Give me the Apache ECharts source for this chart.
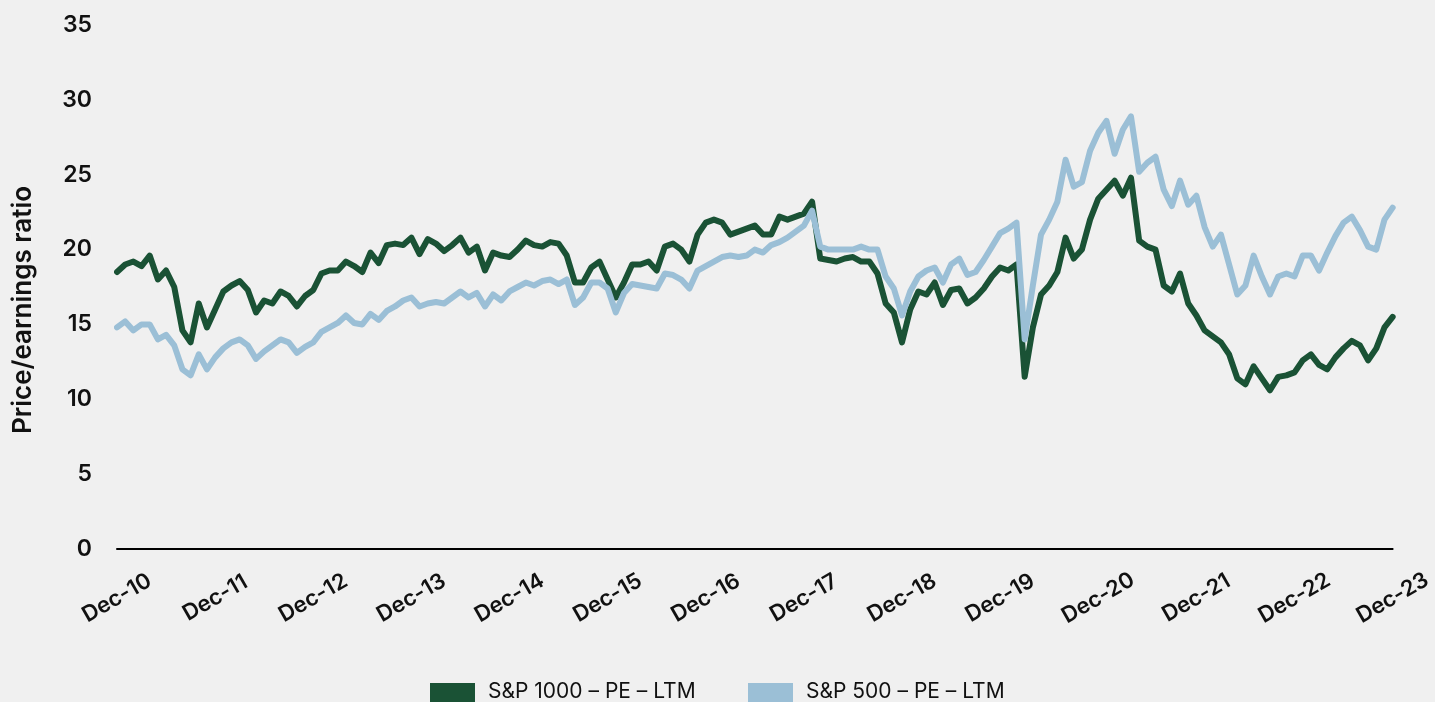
<!DOCTYPE html>
<html>
<head>
<meta charset="utf-8">
<script src="https://cdn.jsdelivr.net/npm/echarts@6/dist/echarts.min.js"></script>
<style>
html,body{margin:0;padding:0;background:#f0f0f0;}
#chart{width:1435px;height:702px;}
</style>
</head>
<body>
<div id="chart"></div>
<script>
// Monthly observations, Dec-10 .. Dec-23
const monthNames = ['Dec','Jan','Feb','Mar','Apr','May','Jun','Jul','Aug','Sep','Oct','Nov'];
const startYear = 10;
const endYear = 23;
const seriesNames = ['S&P 1000 – PE – LTM', 'S&P 500 – PE – LTM'];
const yTicks = [0, 5, 10, 15, 20, 25, 30, 35];

const sp1000 = [
  18.5, 19.0, 19.2, 18.9, 19.6, 18.0, 18.6, 17.5, 14.6, 13.8, 16.4, 14.8,
  16.0, 17.2, 17.6, 17.9, 17.3, 15.8, 16.6, 16.4, 17.2, 16.9, 16.2, 16.9,
  17.3, 18.4, 18.6, 18.6, 19.2, 18.9, 18.5, 19.8, 19.1, 20.3, 20.4, 20.3,
  20.8, 19.7, 20.7, 20.4, 19.9, 20.3, 20.8, 19.8, 20.2, 18.6, 19.8, 19.6,
  19.5, 20.0, 20.6, 20.3, 20.2, 20.5, 20.4, 19.6, 17.8, 17.8, 18.8, 19.2,
  18.0, 16.8, 17.8, 19.0, 19.0, 19.2, 18.6, 20.2, 20.4, 20.0, 19.2, 21.0,
  21.8, 22.0, 21.8, 21.0, 21.2, 21.4, 21.6, 21.0, 21.0, 22.2, 22.0, 22.2,
  22.4, 23.2, 19.4, 19.3, 19.2, 19.4, 19.5, 19.2, 19.2, 18.4, 16.4, 15.8,
  13.8, 16.0, 17.2, 17.0, 17.8, 16.3, 17.3, 17.4, 16.4, 16.8, 17.4, 18.2,
  18.8, 18.6, 19.0, 11.5, 14.8, 17.0, 17.6, 18.5, 20.8, 19.4, 20.0, 22.0,
  23.4, 24.0, 24.6, 23.6, 24.8, 20.6, 20.2, 20.0, 17.6, 17.2, 18.4, 16.4,
  15.6, 14.6, 14.2, 13.8, 13.0, 11.4, 11.0, 12.2, 11.4, 10.6, 11.5, 11.6,
  11.8, 12.6, 13.0, 12.3, 12.0, 12.8, 13.4, 13.9, 13.6, 12.6, 13.4, 14.8,
  15.5
];

const sp500 = [
  14.8, 15.2, 14.6, 15.0, 15.0, 14.0, 14.3, 13.6, 12.0, 11.6, 13.0, 12.0,
  12.8, 13.4, 13.8, 14.0, 13.6, 12.7, 13.2, 13.6, 14.0, 13.8, 13.1, 13.5,
  13.8, 14.5, 14.8, 15.1, 15.6, 15.1, 15.0, 15.7, 15.3, 15.9, 16.2, 16.6,
  16.8, 16.2, 16.4, 16.5, 16.4, 16.8, 17.2, 16.8, 17.1, 16.2, 17.0, 16.6,
  17.2, 17.5, 17.8, 17.6, 17.9, 18.0, 17.7, 18.0, 16.3, 16.8, 17.8, 17.8,
  17.4, 15.8, 17.1, 17.7, 17.6, 17.5, 17.4, 18.4, 18.3, 18.0, 17.4, 18.6,
  18.9, 19.2, 19.5, 19.6, 19.5, 19.6, 20.0, 19.8, 20.3, 20.5, 20.8, 21.2,
  21.6, 22.6, 20.2, 20.0, 20.0, 20.0, 20.0, 20.2, 20.0, 20.0, 18.2, 17.4,
  15.6, 17.2, 18.2, 18.6, 18.8, 17.8, 19.0, 19.4, 18.3, 18.5, 19.3, 20.2,
  21.1, 21.4, 21.8, 14.0, 17.6, 21.0, 22.0, 23.2, 26.0, 24.2, 24.5, 26.6,
  27.8, 28.6, 26.4, 28.0, 28.9, 25.2, 25.8, 26.2, 24.0, 22.9, 24.6, 23.0,
  23.6, 21.5, 20.2, 21.0, 19.0, 17.0, 17.6, 19.6, 18.2, 17.0, 18.2, 18.4,
  18.2, 19.6, 19.6, 18.6, 19.8, 20.9, 21.8, 22.2, 21.3, 20.2, 20.0, 22.0,
  22.8
];

const categories = [];
for (let y = startYear; y <= endYear; y++) {
  for (let m = 0; m < 12; m++) {
    const yy = m === 0 ? y : y + 1;
    if (yy > endYear) break;
    categories.push(monthNames[m] + '-' + String(yy).padStart(2, '0'));
  }
}
categories.length = sp1000.length;

const COLORS = ['#1a5235', '#9bbfd6'];
const FONT = 'Inter, "Noto Sans", sans-serif';
const chart = echarts.init(document.getElementById('chart'));

const legendGraphic = [];
const legendRectX = [430, 748];
seriesNames.forEach((nm, k) => {
  legendGraphic.push({
    type: 'rect', x: legendRectX[k], y: 683,
    shape: { width: 45, height: 25 },
    style: { fill: COLORS[k] }
  });
  legendGraphic.push({
    type: 'text', x: legendRectX[k] + 58, y: 691.5,
    style: { text: nm, fontFamily: FONT, fontSize: 21, fill: '#111', textAlign: 'left', textVerticalAlign: 'middle' }
  });
});

chart.setOption({
  backgroundColor: '#f0f0f0',
  animation: false,
  grid: { left: 117, right: 40, top: 25, bottom: 153, containLabel: false },
  xAxis: {
    type: 'category',
    data: categories,
    boundaryGap: false,
    axisLine: { show: true, lineStyle: { color: '#000', width: 2 } },
    axisTick: { show: false },
    splitLine: { show: false },
    axisLabel: {
      interval: 11,
      rotate: 30,
      align: 'center',
      verticalAlign: 'middle',
      margin: 49,
      fontFamily: FONT,
      fontSize: 22,
      fontWeight: 600,
      color: '#111',
      showMaxLabel: true
    }
  },
  yAxis: {
    type: 'value',
    min: yTicks[0],
    max: yTicks[yTicks.length - 1],
    interval: 5,
    axisLine: { show: false },
    axisTick: { show: false },
    splitLine: { show: false },
    axisLabel: {
      margin: 25,
      fontFamily: FONT,
      fontSize: 23,
      fontWeight: 600,
      color: '#111'
    }
  },
  graphic: [{
    type: 'text',
    x: 23,
    y: 310,
    rotation: Math.PI / 2,
    style: {
      text: 'Price/earnings ratio',
      fontFamily: FONT,
      fontSize: 26,
      fontWeight: 600,
      fill: '#111',
      textAlign: 'center',
      textVerticalAlign: 'middle'
    }
  }].concat(legendGraphic),
  series: [
    {
      name: seriesNames[0],
      type: 'line',
      data: sp1000,
      showSymbol: false,
      symbol: 'none',
      lineStyle: { color: COLORS[0], width: 6, join: 'round', cap: 'round' },
      itemStyle: { color: COLORS[0] },
      z: 2
    },
    {
      name: seriesNames[1],
      type: 'line',
      data: sp500,
      showSymbol: false,
      symbol: 'none',
      lineStyle: { color: COLORS[1], width: 6, join: 'round', cap: 'round' },
      itemStyle: { color: COLORS[1] },
      z: 3
    }
  ]
});
</script>
</body>
</html>
